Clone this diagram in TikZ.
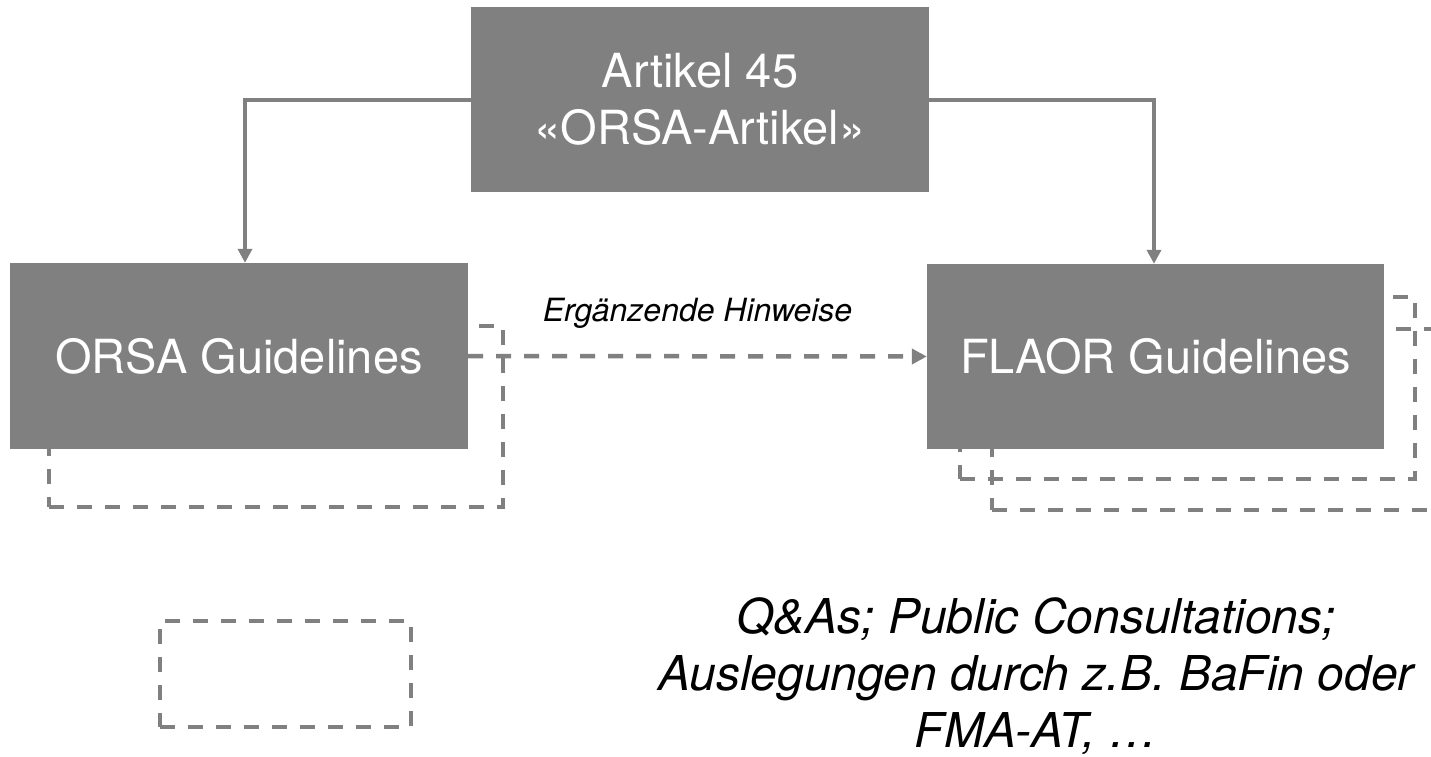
\documentclass[tikz,border=0pt]{standalone}
\usepackage{fontspec}
\setmainfont{TeX Gyre Heros}
\usetikzlibrary{arrows.meta}
\definecolor{boxgray}{RGB}{128,128,128}
\begin{document}
\begin{tikzpicture}[x=1pt,y=-1pt,
  box/.style={fill=boxgray, draw=none, text=white, inner sep=0pt, align=center,
    font=\fontsize{47}{57.5}\selectfont},
  ghost/.style={draw=boxgray, line width=4.5pt, dash pattern=on 15pt off 13pt, inner sep=0pt},
  conn/.style={draw=boxgray, line width=4pt, -{Triangle[length=14pt,width=14pt]}},
  dconn/.style={draw=boxgray, line width=4.5pt, dash pattern=on 15pt off 13pt,
    -{Triangle[length=15pt,width=15pt]}},
  hintlabel/.style={font=\itshape\fontsize{32}{38}\selectfont, text=black},
  notelabel/.style={font=\itshape\fontsize{48}{57}\selectfont, text=black, align=center, inner sep=0pt}
]
\clip (0,0) rectangle (1431,756);
\fill[white] (0,0) rectangle (1431,756);

% dashed back boxes
\node[ghost, minimum width=454pt, minimum height=181pt] (orsaB) at (276,416.5) {};
\node[ghost, minimum width=455pt, minimum height=181pt] (flaorC) at (1219.5,419.5) {};
\node[ghost, minimum width=455pt, minimum height=182pt] (flaorB) at (1187.5,388) {};
\node[ghost, minimum width=251pt, minimum height=106pt] (legend) at (285.5,674) {};

% main boxes
\node[box, minimum width=458pt, minimum height=185pt] (art) at (700,99.5) {Artikel 45\\«ORSA-Artikel»};
\node[box, minimum width=458pt, minimum height=186pt] (orsa) at (239,356) {ORSA Guidelines};
\node[box, minimum width=457pt, minimum height=185pt] (flaor) at (1155.5,356.5) {FLAOR Guidelines};

% connectors
\draw[conn] (art.west) -| ([xshift=6pt]orsa.north);
\draw[conn] (art.east) -| ([xshift=-1.5pt]flaor.north);
\draw[dconn] (orsa.east) -- (flaor.west)
  node[midway, anchor=base, yshift=35pt, hintlabel] (hint) {Ergänzende Hinweise};

% notes
\node[notelabel] (notes) at (1036,676) {Q\&As; Public Consultations;\\Auslegungen durch z.B. BaFin oder\\FMA-AT, …};
\end{tikzpicture}
\end{document}
